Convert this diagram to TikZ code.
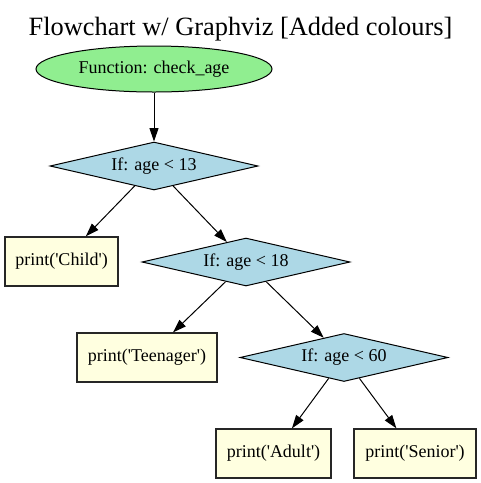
\documentclass[tikz,border=0pt]{standalone}
\usepackage{fontspec}
\setmainfont{Liberation Serif}
\usetikzlibrary{shapes.geometric,arrows.meta}
\definecolor{fncolor}{rgb}{0.564706, 0.933333, 0.564706}
\definecolor{condcolor}{rgb}{0.678431, 0.847059, 0.901961}
\definecolor{outcolor}{rgb}{1.000000, 1.000000, 0.878431}
\newlength{\du}
\setlength{\du}{0.75pt}
\newcommand{\sq}{\textquotesingle}
\tikzset{
  nodefont/.style={font=\fontsize{13.5}{16}\selectfont},
  fnnode/.style={ellipse, draw=black, fill=fncolor, line width=1\du, inner sep=0pt,
    minimum width=236\du, minimum height=46\du, nodefont},
  condnode/.style={diamond, aspect=4.3, draw=black, fill=condcolor, line width=1\du, inner sep=0pt,
    minimum width=208\du, minimum height=48\du, nodefont},
  outnode/.style={rectangle, draw=black!85, fill=outcolor, line width=1.3\du, inner sep=0pt,
    minimum height=49\du, nodefont},
  flowedge/.style={-{Triangle[length=10pt,width=6.7pt]}, line width=1\du},
  charttitle/.style={anchor=base, inner sep=0pt, font=\fontsize{19.8}{24}\selectfont}
}
\begin{document}
\begin{tikzpicture}
\pgftransformxscale{1.000000}
\pgftransformyscale{-1.000000}
\useasboundingbox (0\du,0\du) rectangle (481\du,483\du);
% title
\node[charttitle] (title) at (240.5\du,35\du){Flowchart w/ Graphviz [Added colours]};
% function
\node[fnnode] (checkage) at (154\du,69\du){Function: check\_age};
% conditions
\node[condnode] (ageLt13) at (154\du,166\du){If: age < 13};
\node[condnode] (ageLt18) at (246\du,262\du){If: age < 18};
\node[condnode] (ageLt60) at (344\du,357.5\du){If: age < 60};
% outputs
\node[outnode, minimum width=113\du] (printChild) at (61.5\du,261.5\du){print(\sq Child\sq)};
\node[outnode, minimum width=140\du] (printTeen) at (147\du,357.5\du){print(\sq Teenager\sq)};
\node[outnode, minimum width=115\du] (printAdult) at (273.5\du,453.5\du){print(\sq Adult\sq)};
\node[outnode, minimum width=122\du] (printSenior) at (415\du,453.5\du){print(\sq Senior\sq)};
% edges
\draw[flowedge] (checkage) -- (ageLt13);
\draw[flowedge] (ageLt13) -- (printChild);
\draw[flowedge] (ageLt13) -- (ageLt18);
\draw[flowedge] (ageLt18) -- (printTeen);
\draw[flowedge] (ageLt18) -- (ageLt60);
\draw[flowedge] (ageLt60) -- (printAdult);
\draw[flowedge] (ageLt60) -- (printSenior);
\end{tikzpicture}
\end{document}
